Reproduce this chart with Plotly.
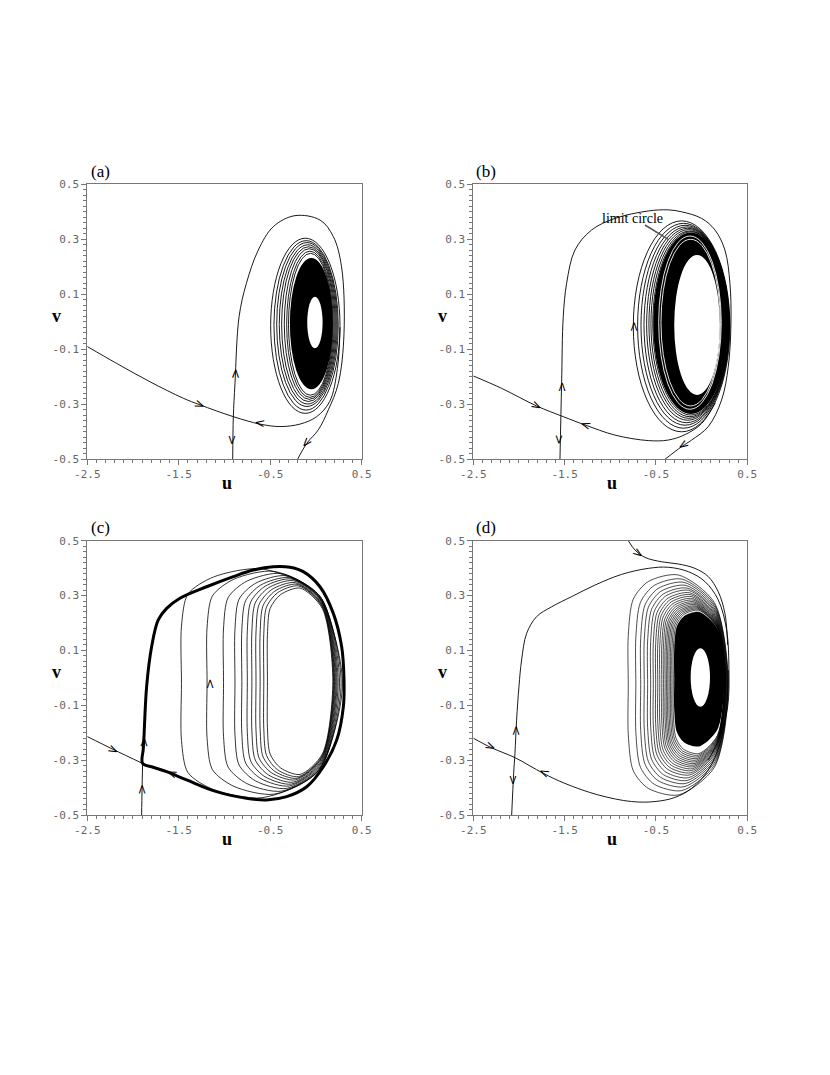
import plotly.graph_objects as go

# ---------------- panel (a) ----------------
a_in_u = [-2.5, -2.18, -1.815, -1.45, -1.268, -0.903, -0.611, -0.393, -0.174, 0.008, 0.15, 0.235, 0.263]
a_in_v = [-0.09, -0.151, -0.218, -0.278, -0.302, -0.345, -0.372, -0.381, -0.372, -0.345, -0.29, -0.17, -0.02]
a_up_u = [-0.91, -0.903, -0.885, -0.84, -0.76, -0.63, -0.466, -0.229, 0.045, 0.19, 0.28, 0.307, 0.245, 0.136, 0.026, -0.10, -0.20]
a_up_v = [-0.5, -0.345, -0.224, 0.019, 0.14, 0.261, 0.346, 0.386, 0.37, 0.31, 0.2, -0.042, -0.224, -0.32, -0.393, -0.442, -0.5]
a_loop_left = [-0.495, -0.459, -0.429, -0.401, -0.375, -0.346, -0.320, -0.300]
a_loop_right = [0.263, 0.244, 0.233, 0.222, 0.211, 0.200, 0.189, 0.180]
a_loop_top = [0.304, 0.295, 0.288, 0.280, 0.273, 0.266, 0.257, 0.249]
a_loop_bottom = [-0.333, -0.321, -0.308, -0.299, -0.290, -0.282, -0.275, -0.267]
a_core = [-0.285, 0.185, -0.245, 0.232]      # left, right, bottom, top
a_hole = [-0.095, 0.073, -0.096, 0.091]
a_arrow_u = [-1.268, -0.611, -0.885, -0.911, -0.101]
a_arrow_v = [-0.302, -0.372, -0.187, -0.43, -0.442]
a_arrow_ang = [22, 187, -88, 90, 130]

# ---------------- panel (b) ----------------
b_in_u = [-2.5, -2.19, -1.807, -1.515, -1.277, -0.949, -0.584, -0.365, -0.18, 0.0, 0.15]
b_in_v = [-0.197, -0.242, -0.306, -0.345, -0.375, -0.412, -0.432, -0.430, -0.41, -0.37, -0.295]
b_up_u = [-1.551, -1.533, -1.515, -1.478, -1.387, -1.204, -0.949, -0.584, -0.365, -0.219, 0.0, 0.146, 0.255, 0.31, 0.321, 0.292, 0.219, 0.073, -0.109, -0.219, -0.401]
b_up_v = [-0.5, -0.224, 0.019, 0.14, 0.261, 0.334, 0.376, 0.403, 0.407, 0.40, 0.376, 0.334, 0.261, 0.14, -0.005, -0.163, -0.284, -0.381, -0.43, -0.454, -0.5]
b_loop_left = [-0.748, -0.701, -0.664, -0.631, -0.602, -0.577, -0.555, -0.535]
b_loop_right = [0.310, 0.305, 0.302, 0.300, 0.298, 0.297, 0.296, 0.295]
b_loop_top = [0.367, 0.358, 0.351, 0.345, 0.340, 0.335, 0.330, 0.327]
b_loop_bottom = [-0.400, -0.387, -0.376, -0.367, -0.358, -0.351, -0.345, -0.339]
b_core = [-0.53, 0.295, -0.335, 0.325]
b_hole = [-0.30, 0.20, -0.266, 0.243]
b_white_left = [-0.47, -0.445]
b_white_right = [0.215, 0.205]
b_white_top = [0.312, 0.300]
b_white_bottom = [-0.318, -0.306]
b_arrow_u = [-1.807, -1.277, -1.533, -1.551, -0.748, -0.201]
b_arrow_v = [-0.306, -0.375, -0.236, -0.43, -0.018, -0.448]
b_arrow_ang = [27, 198, -90, 90, -90, 147]

# ---------------- panel (c) ----------------
c_sep_u = [-1.895, -1.888, -1.88, -1.851, -1.796, -1.724, -1.632, -1.487, -1.195, -0.903, -0.685, -0.466, -0.284, -0.138,
           0.044, 0.19, 0.281, 0.307, 0.30, 0.227, 0.081, -0.101, -0.32, -0.539, -0.758, -1.086, -1.414, -1.632, -1.78, -1.895]
c_sep_v = [-0.312, -0.26, -0.214, -0.032, 0.114, 0.211, 0.253, 0.29, 0.332, 0.369, 0.393, 0.405, 0.403, 0.387,
           0.332, 0.235, 0.114, -0.008, -0.105, -0.227, -0.324, -0.397, -0.433, -0.445, -0.439, -0.415, -0.372, -0.342, -0.326, -0.312]
c_in_u = [-2.5, -2.216, -1.895]
c_in_v = [-0.214, -0.261, -0.312]
c_up_u = [-1.906, -1.901, -1.895]
c_up_v = [-0.5, -0.41, -0.312]
c_loop_left = [-1.47, -1.19, -1.01, -0.885, -0.81, -0.75, -0.70, -0.655, -0.61, -0.57, -0.53]
c_loop_right = [0.29, 0.275, 0.258, 0.243, 0.231, 0.221, 0.212, 0.204, 0.197, 0.191, 0.185]
c_loop_top = [0.397, 0.388, 0.380, 0.372, 0.365, 0.360, 0.354, 0.347, 0.341, 0.335, 0.327]
c_loop_bottom = [-0.437, -0.424, -0.413, -0.403, -0.394, -0.387, -0.380, -0.372, -0.366, -0.360, -0.352]
c_arrow_u = [-2.216, -1.88, -1.906, -1.578, -1.17]
c_arrow_v = [-0.261, -0.233, -0.406, -0.351, -0.02]
c_arrow_ang = [26, -88, -90, 202, -90]

# ---------------- panel (d) ----------------
d_in_u = [-2.5, -2.3, -2.044, -1.734, -1.496, -1.131, -0.766, -0.511, -0.292, -0.109, 0.073, 0.201, 0.274, 0.292]
d_in_v = [-0.22, -0.255, -0.291, -0.348, -0.385, -0.427, -0.451, -0.451, -0.436, -0.403, -0.336, -0.239, -0.105, 0.029]
d_up_u = [-2.08, -2.058, -2.044, -2.026, -2.0, -1.971, -1.916, -1.807, -1.642, -1.423, -1.168, -0.876, -0.584,
          -0.365, -0.146, 0.036, 0.182, 0.274, 0.299, 0.285, 0.201, 0.073]
d_up_v = [-0.5, -0.348, -0.275, -0.154, -0.032, 0.065, 0.162, 0.223, 0.259, 0.296, 0.338, 0.377, 0.399,
          0.403, 0.387, 0.351, 0.284, 0.174, 0.029, -0.105, -0.214, -0.30]
d_top_u = [-0.803, -0.73, -0.62, -0.438, -0.255, -0.073, 0.073, 0.182, 0.255, 0.285]
d_top_v = [0.5, 0.466, 0.439, 0.423, 0.415, 0.399, 0.369, 0.314, 0.235, 0.12]
d_loop_left = [-0.803, -0.72, -0.667, -0.628, -0.591, -0.558, -0.529, -0.503, -0.48, -0.458,
               -0.436, -0.418, -0.40, -0.385, -0.37, -0.355, -0.34, -0.325, -0.31]
d_loop_right = [0.292, 0.288, 0.284, 0.28, 0.276, 0.272, 0.268, 0.265, 0.262, 0.26,
                0.258, 0.256, 0.255, 0.254, 0.253, 0.252, 0.251, 0.25, 0.25]
d_loop_top = [0.375, 0.360, 0.348, 0.337, 0.327, 0.319, 0.310, 0.303, 0.296, 0.289,
              0.283, 0.277, 0.272, 0.267, 0.262, 0.258, 0.254, 0.250, 0.246]
d_loop_bottom = [-0.427, -0.411, -0.397, -0.385, -0.374, -0.364, -0.354, -0.346, -0.338, -0.331,
                 -0.324, -0.318, -0.312, -0.306, -0.300, -0.294, -0.288, -0.282, -0.276]
d_core = [-0.30, 0.25, -0.25, 0.24]
d_hole = [-0.12, 0.092, -0.105, 0.108]
d_arrow_u = [-2.307, -1.723, -2.033, -2.062, -0.686]
d_arrow_v = [-0.251, -0.346, -0.19, -0.372, 0.454]
d_arrow_ang = [25, 205, -90, 90, 36]

axes = {'a': ('x', 'y'), 'b': ('x2', 'y2'), 'c': ('x3', 'y3'), 'd': ('x4', 'y4')}

fig = go.Figure()


def curve(u, v, ax, width=0.9, color='black', fill=None, fillcolor=None, smoothing=1.0):
    fig.add_trace(go.Scatter(x=u, y=v, xaxis=ax[0], yaxis=ax[1], mode='lines',
                             line=dict(color=color, width=width, shape='spline', smoothing=smoothing),
                             fill=fill, fillcolor=fillcolor, hoverinfo='skip'))


def ellipse(box, ax, width=0.9, color='black', fillcolor=None):
    l, r, b, t = box
    fig.add_shape(type='circle', xref=ax[0], yref=ax[1], x0=l, x1=r, y0=b, y1=t,
                  line=dict(color=color, width=width), fillcolor=fillcolor)


def egg(l, r, t, b, p):
    # knots of a rounded loop with a straight left side; p = [(du, dv), ...] for the upper half
    w = r - l
    vc = (t + b) / 2
    ht, hb = t - vc, vc - b
    us = [l] + [l + du * w for du, dv in p] + [r] + [l + du * w for du, dv in reversed(p)] + [l]
    vs = [vc] + [vc + dv * ht for du, dv in p] + [vc] + [vc - dv * hb for du, dv in reversed(p)] + [vc]
    return us, vs


def arrows(us, vs, angs, ax):
    for u, v, a in zip(us, vs, angs):
        fig.add_annotation(x=u, y=v, xref=ax[0], yref=ax[1], text='>', textangle=a,
                           xanchor='center', yanchor='middle',
                           showarrow=False, font=dict(size=13, color='black', family='DejaVu Sans'))


# (a)
ax = axes['a']
ellipse(a_core, ax, width=0, fillcolor='black')
ellipse(a_hole, ax, width=0, fillcolor='white')
for box in zip(a_loop_left, a_loop_right, a_loop_bottom, a_loop_top):
    ellipse(box, ax)
curve(a_in_u, a_in_v, ax)
curve(a_up_u, a_up_v, ax)
arrows(a_arrow_u, a_arrow_v, a_arrow_ang, ax)

# (b)
ax = axes['b']
ellipse(b_core, ax, width=0, fillcolor='black')
ellipse(b_hole, ax, width=0, fillcolor='white')
for box in zip(b_white_left, b_white_right, b_white_bottom, b_white_top):
    ellipse(box, ax, width=0.9, color='white')
for box in zip(b_loop_left, b_loop_right, b_loop_bottom, b_loop_top):
    ellipse(box, ax)
curve(b_in_u, b_in_v, ax)
curve(b_up_u, b_up_v, ax)
arrows(b_arrow_u, b_arrow_v, b_arrow_ang, ax)
fig.add_annotation(x=-0.762, y=0.377, xref='x2', yref='y2', text='limit circle', showarrow=False,
                   xanchor='center', yanchor='middle',
                   font=dict(size=14, color='black', family='Liberation Serif'))
fig.add_shape(type='line', xref='x2', yref='y2', x0=-0.62, y0=0.352, x1=-0.365, y1=0.30,
              line=dict(color='#555555', width=1.5))

# (c)
ax = axes['c']
tmpl_c = [(0.0, 0.5), (0.04, 0.78), (0.2, 0.93), (0.5, 1.0), (0.84, 0.78)]
for l, r, t, b in zip(c_loop_left, c_loop_right, c_loop_top, c_loop_bottom):
    us, vs = egg(l, r, t, b, tmpl_c)
    curve(us, vs, ax, width=0.8, smoothing=0.8)
curve(c_sep_u, c_sep_v, ax, width=3)
curve(c_in_u, c_in_v, ax)
curve(c_up_u, c_up_v, ax)
arrows(c_arrow_u, c_arrow_v, c_arrow_ang, ax)

# (d)
ax = axes['d']
tmpl_d = [(0.0, 0.45), (0.05, 0.78), (0.2, 0.94), (0.5, 1.0), (0.86, 0.75)]
us, vs = egg(d_core[0], d_core[1], d_core[3], d_core[2], tmpl_d)
curve(us, vs, ax, width=0, fill='toself', fillcolor='black', smoothing=0.8)
for l, r, t, b in zip(d_loop_left, d_loop_right, d_loop_top, d_loop_bottom):
    us, vs = egg(l, r, t, b, tmpl_d)
    curve(us, vs, ax, width=0.7, smoothing=0.8)
ellipse(d_hole, ax, width=0, fillcolor='white')
curve(d_in_u, d_in_v, ax)
curve(d_up_u, d_up_v, ax)
curve(d_top_u, d_top_v, ax)
arrows(d_arrow_u, d_arrow_v, d_arrow_ang, ax)

# axes (the page body adds an 8 px offset, domains account for it)
x_dom = {'a': [0.0955, 0.4261], 'b': [0.5606, 0.8907], 'c': [0.0955, 0.4261], 'd': [0.5606, 0.8907]}
y_dom = {'a': [0.5802, 0.8360], 'b': [0.5802, 0.8360], 'c': [0.2493, 0.5045], 'd': [0.2493, 0.5045]}
grey = '#777777'
tickfont = dict(family='DejaVu Sans Mono', size=11, color='#666666')
layout = {}
for key, (xa, ya) in axes.items():
    xname = 'xaxis' + xa[1:]
    yname = 'yaxis' + ya[1:]
    layout[xname] = dict(domain=x_dom[key], anchor=ya, range=[-2.5, 0.5], automargin=False,
                         tickmode='array', tickvals=[-2.5, -1.5, -0.5, 0.5],
                         ticktext=['-2.5', '-1.5', '-0.5', '0.5'],
                         ticks='outside', ticklen=5, tickcolor=grey, tickfont=tickfont,
                         minor=dict(tickmode='linear', tick0=-2.5, dtick=0.1, ticks='outside',
                                    ticklen=3, tickcolor=grey),
                         showline=True, linecolor=grey, linewidth=1, mirror=True,
                         showgrid=False, zeroline=False, fixedrange=True)
    layout[yname] = dict(domain=y_dom[key], anchor=xa, range=[-0.5, 0.5], automargin=False,
                         tickmode='array', tickvals=[-0.5, -0.3, -0.1, 0.1, 0.3, 0.5],
                         ticktext=['-0.5', '-0.3', '-0.1', '0.1', '0.3', '0.5'],
                         ticks='outside', ticklen=5, tickcolor=grey, tickfont=tickfont,
                         minor=dict(tickmode='linear', tick0=-0.5, dtick=0.02, ticks='outside',
                                    ticklen=3, tickcolor=grey),
                         showline=True, linecolor=grey, linewidth=1, mirror=True,
                         showgrid=False, zeroline=False, fixedrange=True)
    fig.add_annotation(x=0.047, y=1.047, xref=xa + ' domain', yref=ya + ' domain',
                       text='(' + key + ')', showarrow=False, xanchor='center', yanchor='middle',
                       font=dict(family='Liberation Serif', size=17, color='black'))
    fig.add_annotation(x=0.508, y=-0.088, xref=xa + ' domain', yref=ya + ' domain',
                       text='<b>u</b>', showarrow=False, xanchor='center', yanchor='middle',
                       font=dict(family='Liberation Serif', size=18, color='black'))
    fig.add_annotation(x=-0.112, y=0.52, xref=xa + ' domain', yref=ya + ' domain',
                       text='<b>v</b>', showarrow=False, xanchor='center', yanchor='middle',
                       font=dict(family='Liberation Serif', size=18, color='black'))

fig.update_layout(width=830, height=1075, margin=dict(l=0, r=0, t=0, b=0, pad=0), autosize=False,
                  paper_bgcolor='white', plot_bgcolor='white', showlegend=False, **layout)

fig.write_html("out.html")
